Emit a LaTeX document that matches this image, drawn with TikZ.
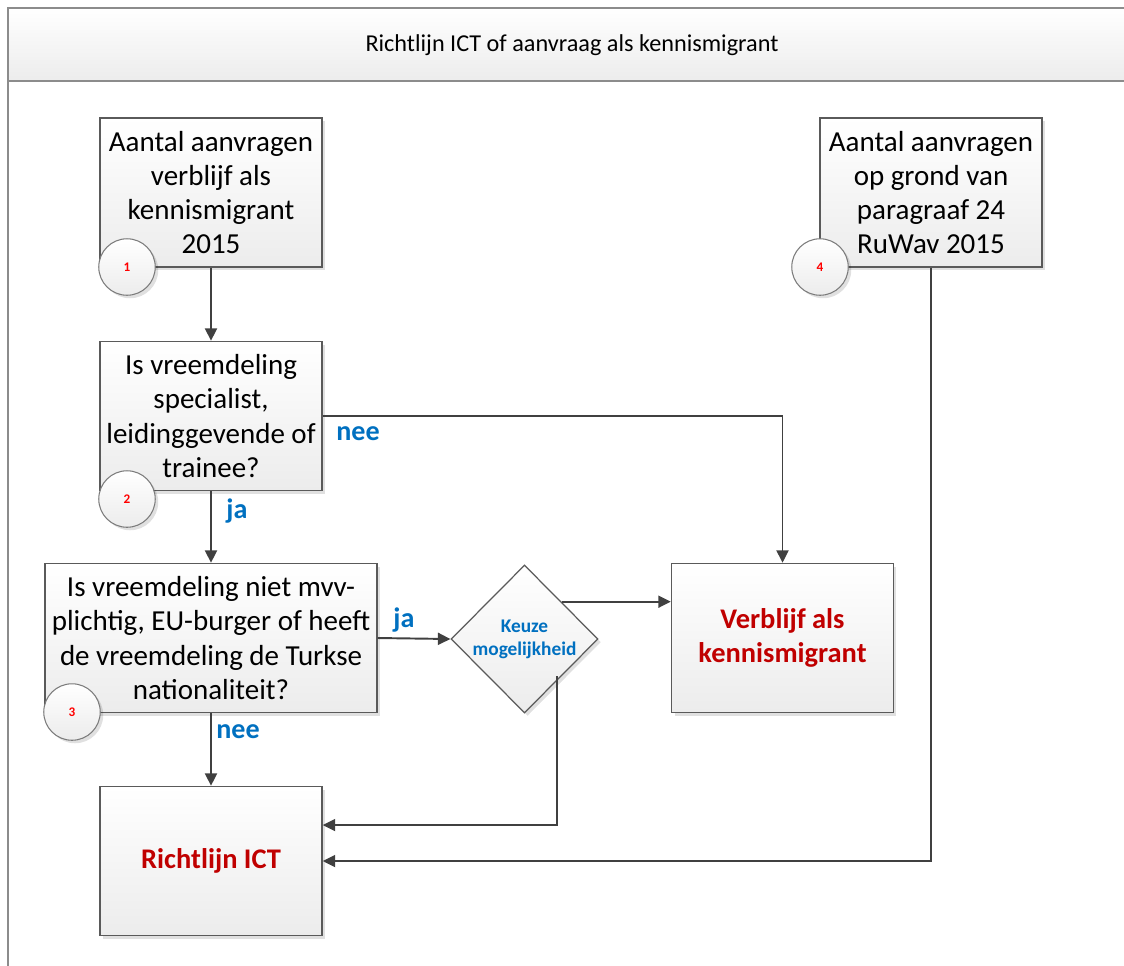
\documentclass[tikz,border=0pt]{standalone}
\usepackage{fontspec}
\setmainfont{Carlito}
\usetikzlibrary{arrows.meta,shapes.geometric,shadows}
\definecolor{frameGray}{HTML}{8C8C8C}
\definecolor{boxEdge}{HTML}{5A5A5A}
\definecolor{boxFill}{HTML}{ECECEC}
\definecolor{lineGray}{HTML}{404040}
\definecolor{labelBlue}{HTML}{0070C0}
\definecolor{resultRed}{HTML}{C00000}
\definecolor{numRed}{HTML}{FF0000}
\begin{document}
\begin{tikzpicture}[x=0.02cm,y=-0.02cm,
  shade/.style={top color=white, bottom color=boxFill},
  shadowed/.style={drop shadow={shadow xshift=0.06cm, shadow yshift=-0.06cm, fill=black, opacity=0.12}},
  stepbox/.style={draw=boxEdge, line width=0.85pt, shade, shadowed,
    minimum width=4.44cm, minimum height=2.98cm, inner sep=0pt, align=center,
    font=\fontsize{16.5}{19.4}\selectfont},
  resultbox/.style={stepbox, text=resultRed, font=\fontsize{16.2}{19.8}\selectfont\bfseries},
  choice/.style={diamond, draw=boxEdge, line width=0.7pt, shade, shadowed,
    minimum width=2.94cm, minimum height=2.96cm, inner sep=0pt, align=center,
    text=labelBlue, font=\fontsize{11}{13}\selectfont\bfseries},
  numcirc/.style={circle, draw=boxEdge!80, line width=0.6pt, shade, shadowed,
    minimum size=1.13cm, inner sep=0pt, text=numRed,
    font=\fontsize{7.5}{8}\selectfont\bfseries},
  flow/.style={draw=lineGray, line width=1.1pt},
  arr/.style={flow, -{Triangle[length=0.25cm,width=0.24cm]}},
  answer/.style={text=labelBlue, font=\fontsize{16}{19}\selectfont\bfseries, inner sep=0pt}
]
\useasboundingbox (0,0) rectangle (1124,965);
\clip (0,0) rectangle (1124,965);

% swimlane frame with header band
\fill[shade] (8,8) rectangle (1140,81);
\draw[frameGray, line width=1.1pt] (8,975) -- (8,8) -- (1140,8);
\draw[frameGray, line width=1.1pt] (8,81) -- (1140,81);
\node[font=\fontsize{13.8}{16}\selectfont] (title) at (572,45) {Richtlijn ICT of aanvraag als kennismigrant};

% process boxes
\node[stepbox] (b1) at (211,192.5) {Aantal aanvragen\\verblijf als\\kennismigrant\\2015};
\node[stepbox] (b2) at (211,416) {Is vreemdeling\\specialist,\\leidinggevende of\\trainee?};
\node[stepbox, minimum width=6.64cm] (b3) at (211,638) {Is vreemdeling niet mvv-\\plichtig, EU-burger of heeft\\de vreemdeling de Turkse\\nationaliteit?};
\node[stepbox] (b4) at (931,192.5) {Aantal aanvragen\\op grond van\\paragraaf 24\\RuWav 2015};
\node[choice] (dia) at (524.5,639) {Keuze\\mogelijkheid};
\node[resultbox] (vb) at (782.5,638) {Verblijf als\\kennismigrant};
\node[resultbox] (ict) at (211,861) {Richtlijn ICT};

% numbered markers
\node[numcirc] (n1) at (127,267) {1};
\node[numcirc] (n2) at (127,499) {2};
\node[numcirc] (n3) at (72,712) {3};
\node[numcirc] (n4) at (820,267) {4};

% connectors
\draw[arr] (b1.south) -- (b2.north);
\draw[arr] (b2.south) -- (b3.north);
\draw[arr] (b3.south) -- (ict.north);
\draw[arr] (b2.east) -| (vb.north);
\draw[arr] (b3.east) -- (dia.west);
\draw[arr] (dia.north east) -- (dia.north east -| vb.west);
\draw[arr] ([xshift=-0.09cm]dia.south east) |- ([yshift=0.72cm]ict.east);
\draw[arr] (b4.south) |- (ict.east);

% answer labels
\node[answer] (l1) at (358,434) {nee};
\node[answer] (l2) at (237,511) {ja};
\node[answer] (l3) at (404,620) {ja};
\node[answer] (l4) at (238,732) {nee};
\end{tikzpicture}
\end{document}
